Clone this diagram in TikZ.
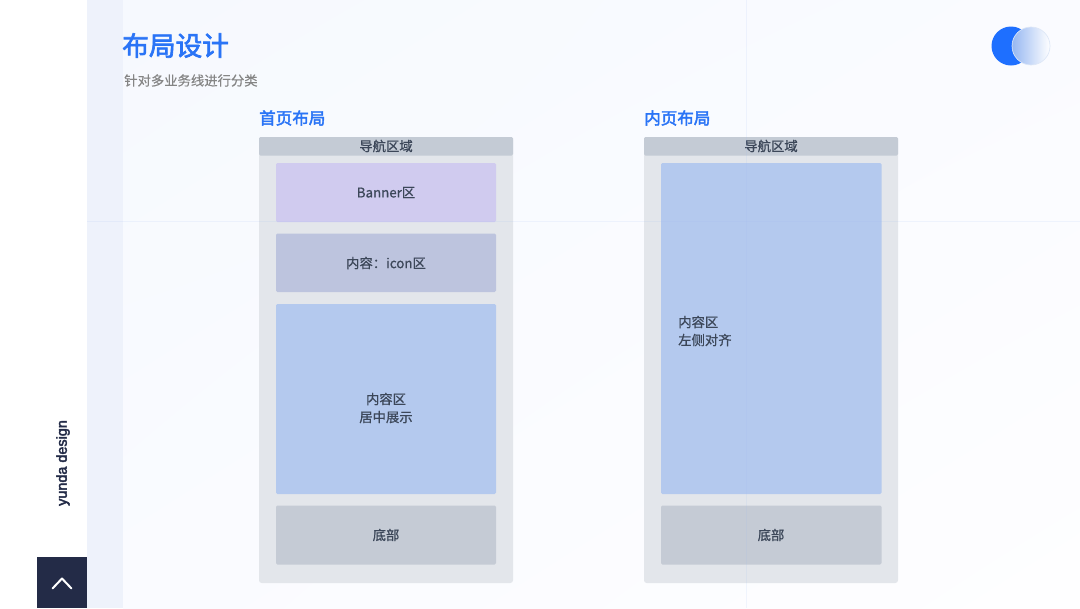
\documentclass[tikz,border=0pt]{standalone}
\usepackage{fontspec}
\usetikzlibrary{shadings}
\setmainfont{Noto Sans CJK SC}[FakeBold=0.8]
\newfontfamily\titlefont{Noto Sans CJK SC}[FakeBold=2.4]
\newfontfamily\subfont{Noto Sans CJK SC}[FakeBold=0.4]
\newfontfamily\brandfont{Liberation Sans}[FakeBold=3]
\definecolor{titleblue}{HTML}{2A74F6}
\definecolor{markblue}{HTML}{1E6FFF}
\definecolor{inktext}{HTML}{3C4759}
\definecolor{navy}{HTML}{232B47}
\definecolor{bandblue}{HTML}{EEF2FB}
\definecolor{gridline}{HTML}{9DB8F0}
\definecolor{navgrey}{HTML}{C4CBD5}
\definecolor{pagegrey}{HTML}{E3E6EB}
\definecolor{bannerviolet}{HTML}{D0CBEF}
\definecolor{iconslate}{HTML}{BDC4DE}
\definecolor{contentblue}{HTML}{B4C9EE}
\definecolor{footgrey}{HTML}{C5CBD5}
\definecolor{washleft}{HTML}{F6F9FE}
\definecolor{washmid}{HTML}{FAFBFF}
\definecolor{washright}{HTML}{FEFEFF}
\tikzset{
  boxtext/.style={font=\fontsize{10}{13.5}\selectfont,text=inktext,align=center,inner sep=0pt},
  headtext/.style={font=\fontsize{12.4}{15}\selectfont\titlefont,text=titleblue,anchor=west,inner sep=0pt},
  guide/.style={gridline,opacity=0.13,line width=0.75pt},
}
\begin{document}
\begin{tikzpicture}[x=0.75pt,y=-0.75pt]
  \useasboundingbox (0,0) rectangle (1080,608);
  % background
  \fill[white] (0,0) rectangle (1080,608);
  \shade[upper left=washleft,lower left=washmid,upper right=washmid,lower right=washright] (123,0) rectangle (1080,608);
  \fill[bandblue] (87,0) rectangle (123,608);
  % side strip
  \node[rotate=90,font=\fontsize{10.8}{12}\selectfont\brandfont,text=navy,inner sep=0pt] (brand) at (63,463) {yunda design};
  \fill[navy] (37,557) rectangle (87,608);
  \draw[white,line width=1.5pt,line cap=round,line join=round] (52.5,588.5) -- (62,578.5) -- (71.5,588.5);
  % heading
  \node[font=\fontsize{20}{24}\selectfont\titlefont,text=titleblue,anchor=west,inner sep=0pt] (title) at (122,45.5) {布局设计};
  \node[font=\fontsize{10}{12}\selectfont\subfont,text=black!48,anchor=west,inner sep=0pt] (subtitle) at (124,80.5) {针对多业务线进行分类};
  % toggle mark
  \fill[markblue] (1011,46) circle (19.5);
  \shade[left color=contentblue!80!markblue,right color=white] (1031,46) circle (19);
  \draw[contentblue!45!white,line width=0.5pt] (1031,46) circle (19);
  % home page
  \node[headtext] (homehead) at (259,118) {首页布局};
  \fill[pagegrey,rounded corners=2pt] (259,137) rectangle (513,583);
  \fill[navgrey,rounded corners=1pt] (259,137) rectangle (513,155.5);
  \node[boxtext] (homenav) at (386,146) {导航区域};
  \fill[bannerviolet,rounded corners=1pt] (276,163) rectangle (496,222);
  \node[boxtext] (banner) at (386,192.5) {Banner区};
  \fill[iconslate,rounded corners=1pt] (276,233.5) rectangle (496,292);
  \node[boxtext] (iconarea) at (386,263) {内容：icon区};
  \fill[contentblue,rounded corners=1pt] (276,304) rectangle (496,494);
  \node[boxtext] (homebody) at (386,408) {内容区\\居中展示};
  \fill[footgrey,rounded corners=1pt] (276,505.5) rectangle (496,564.5);
  \node[boxtext] (homefoot) at (386,535) {底部};
  % inner page
  \node[headtext] (innerhead) at (644,118) {内页布局};
  \fill[pagegrey,rounded corners=2pt] (644,137) rectangle (898,583);
  \fill[navgrey,rounded corners=1pt] (644,137) rectangle (898,155.5);
  \node[boxtext] (innernav) at (771,146) {导航区域};
  \fill[contentblue,rounded corners=1pt] (661,163) rectangle (881.5,494);
  \node[boxtext,align=left,anchor=west] (innerbody) at (678,331) {内容区\\左侧对齐};
  \fill[footgrey,rounded corners=1pt] (661,505.5) rectangle (881.5,564.5);
  \node[boxtext] (innerfoot) at (771,535) {底部};
  % guides run over the boxes
  \draw[guide] (87,221.5) -- (1080,221.5);
  \draw[guide] (746.5,0) -- (746.5,608);
\end{tikzpicture}
\end{document}
